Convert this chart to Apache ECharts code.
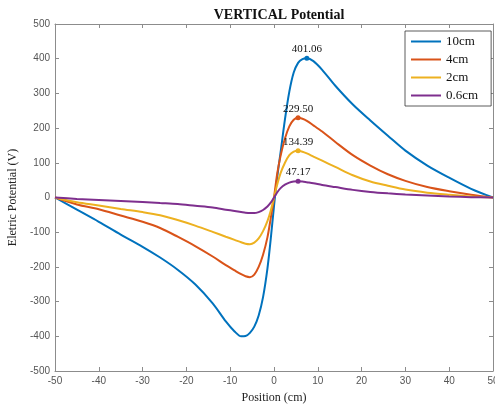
<!DOCTYPE html>
<html>
<head>
<meta charset="utf-8">
<script src="https://cdn.jsdelivr.net/npm/echarts@6/dist/echarts.min.js"></script>
<style>
  html, body { margin: 0; padding: 0; background: #fff; }
  #chart { width: 495px; height: 406px; }
</style>
</head>
<body>
<div id="chart"></div>
<script>
// positions (cm), shared by every curve
const positions = [-50, -45, -40, -35, -30, -26, -22, -18, -14, -11, -9, -7.5, -6.5, -5.5, -4.5, -3.5, -2.5, -1.5, -0.75, 0,
  0.75, 1.5, 2.5, 3.5, 4.5, 5.5, 6.5, 7.5, 9, 11, 14, 18, 22, 26, 30, 35, 40, 45, 50];

// potential (V)
const v10cm = [0, -35, -70, -107, -142, -173, -208, -250, -305, -357, -386, -400, -399, -390, -372, -340, -287, -205, -120, -25,
  60, 130, 225, 305, 360, 388, 399, 401.06, 393, 368, 322, 268, 222, 178, 135, 92, 57, 25, 0];
const v4cm = [0, -20, -34, -52, -70, -88, -113, -140, -170, -195, -210, -221, -227, -229.5, -222, -200, -165, -115, -60, 0,
  70, 120, 170, 205, 224, 229.5, 227, 221, 208, 190, 160, 122, 92, 67, 48, 30, 18, 8, 0];
const v2cm = [0, -14, -23, -33, -42, -51, -65, -81, -99, -113, -122, -129, -133, -134.39, -130, -118, -97, -68, -38, 0,
  38, 70, 100, 122, 132, 134.39, 132, 127, 118, 106, 88, 64, 46, 34, 23, 14, 8, 3, 0];
const v06cm = [0, -4, -7, -10, -13, -16, -19, -24, -29, -35, -39, -42, -44, -45, -45, -42, -36, -26, -15, 0,
  15, 27, 37, 43, 46, 47.17, 46, 44, 41, 36, 30, 22, 16, 12, 9, 6, 3, 1, 0];

const seriesNames = ['10cm', '4cm', '2cm', '0.6cm'];
const seriesValues = [v10cm, v4cm, v2cm, v06cm];
const colors = ['#0072BD', '#D95319', '#EDB120', '#7E2F8E'];

// peak markers: [position, value]
const peaks = [[7.5, 401.06], [5.5, 229.50], [5.5, 134.39], [5.5, 47.17]];

const xTicks = { min: -50, max: 50, interval: 10 };
const yTicks = { min: -500, max: 500, interval: 100 };

let myChart = echarts.init(document.getElementById('chart'));

const axisGray = '#8c8c8c';
const serif = 'Liberation Serif, Times New Roman, serif';
const sans = 'Liberation Sans, Arial, sans-serif';

let series = seriesNames.map((name, i) => ({
  name: name,
  type: 'line',
  smooth: 0.3,
  showSymbol: false,
  lineStyle: { width: 2, color: colors[i] },
  itemStyle: { color: colors[i] },
  data: positions.map((p, j) => [p, seriesValues[i][j]]),
  markPoint: {
    symbol: 'circle',
    symbolSize: 5,
    itemStyle: { color: colors[i] },
    label: {
      show: true,
      position: 'top',
      distance: 1,
      color: '#111',
      fontFamily: serif,
      fontSize: 11,
      formatter: () => peaks[i][1].toFixed(2)
    },
    data: [{ coord: peaks[i] }]
  }
}));

let option = {
  animation: false,
  color: colors,
  title: {
    text: 'VERTICAL Potential',
    left: 274,
    top: 3,
    textAlign: 'center',
    textStyle: { fontFamily: serif, fontSize: 14, fontWeight: 'bold', color: '#111' }
  },
  legend: {
    data: seriesNames,
    orient: 'vertical',
    left: 405,
    top: 31,
    icon: 'rect',
    itemWidth: 30,
    itemHeight: 2,
    itemGap: 5,
    padding: [4, 13, 4, 6],
    borderColor: '#333',
    borderWidth: 0.8,
    backgroundColor: '#fff',
    textStyle: { fontFamily: serif, fontSize: 13, color: '#111' }
  },
  grid: { left: 55, right: 2, top: 24, bottom: 35, outerBoundsMode: 'none' },
  xAxis: [
    {
      type: 'value',
      ...xTicks,
      name: 'Position (cm)',
      nameLocation: 'middle',
      nameGap: 21,
      nameTextStyle: { fontFamily: serif, fontSize: 12, color: '#222' },
      axisLine: { show: true, onZero: false, lineStyle: { color: axisGray } },
      axisTick: { show: true, inside: true, length: 4, lineStyle: { color: axisGray } },
      axisLabel: { fontFamily: sans, fontSize: 10, color: '#555', margin: 5 },
      splitLine: { show: false }
    },
    {
      type: 'value',
      position: 'top',
      ...xTicks,
      axisLine: { show: true, onZero: false, lineStyle: { color: axisGray } },
      axisTick: { show: true, inside: true, length: 4, lineStyle: { color: axisGray } },
      axisLabel: { show: false },
      splitLine: { show: false }
    }
  ],
  yAxis: [
    {
      type: 'value',
      ...yTicks,
      name: 'Eletric Potential (V)',
      nameLocation: 'middle',
      nameGap: 26,
      nameTextStyle: { fontFamily: serif, fontSize: 12, color: '#222' },
      axisLine: { show: true, onZero: false, lineStyle: { color: axisGray } },
      axisTick: { show: true, inside: true, length: 4, lineStyle: { color: axisGray } },
      axisLabel: { fontFamily: sans, fontSize: 10, color: '#555', margin: 5 },
      splitLine: { show: false }
    },
    {
      type: 'value',
      position: 'right',
      ...yTicks,
      axisLine: { show: true, onZero: false, lineStyle: { color: axisGray } },
      axisTick: { show: true, inside: true, length: 4, lineStyle: { color: axisGray } },
      axisLabel: { show: false },
      splitLine: { show: false }
    }
  ],
  series: series
};

myChart.setOption(option, true);
</script>
</body>
</html>
